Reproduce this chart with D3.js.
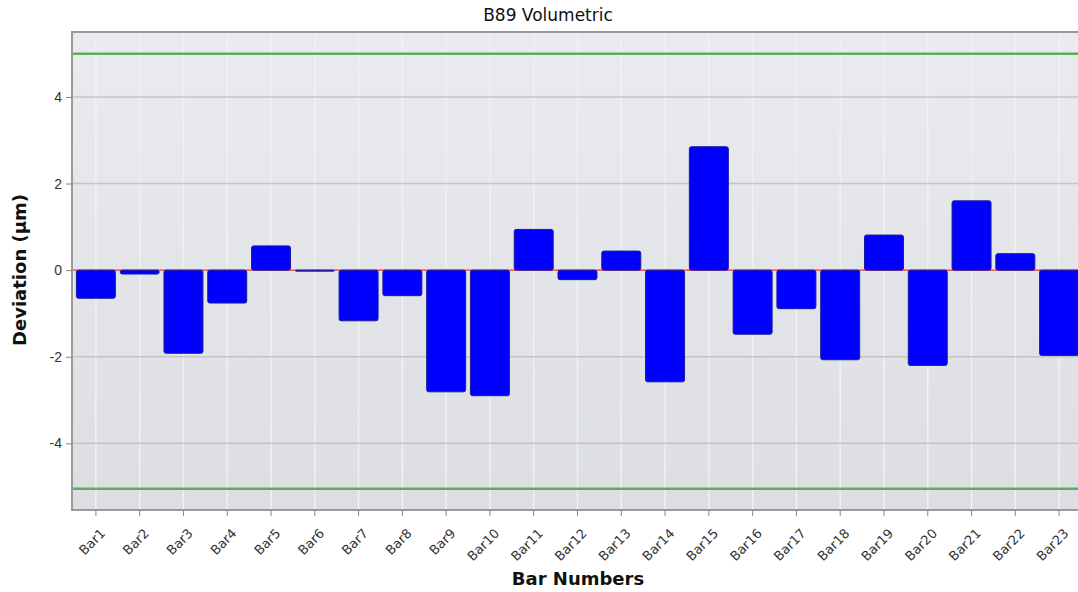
<!DOCTYPE html>
<html>
<meta charset="utf-8">
<head>
<style>
    body { margin: 0; background: white; }
    text { font-family: "DejaVu Sans", Verdana, sans-serif; }
    .title { font-size: 17px; fill: #111; text-anchor: middle; }
    .axis_label { font-size: 18px; font-weight: bold; fill: #111; text-anchor: middle; }
    .y_tick text { font-family: "Liberation Sans", Arial, sans-serif; font-size: 14px; fill: #333; }
    .x_tick text { font-size: 13px; fill: #333; }
    .domain { display: none; }
    .tick line { stroke: #888; }
</style>
</head>
<body>
<div id="viz"></div>
<script src="https://cdnjs.cloudflare.com/ajax/libs/d3/7.8.5/d3.min.js"></script>
<script>
const width = 1078;
const height = 592;

// data
const bar_names = d3.range(1, 24).map(i => "Bar" + i);
const deviations = [-0.65, -0.09, -1.92, -0.76, 0.56, -0.02, -1.17, -0.59, -2.81, -2.90,
    0.94, -0.22, 0.44, -2.58, 2.85, -1.48, -0.89, -2.07, 0.81, -2.20, 1.60, 0.38, -1.97];
const y_ticks = [-4, -2, 0, 2, 4];
const limits = [5, -5.05];
const y_domain = [-5.54, 5.5];

const plot = { left: 72, top: 32, right: 1078, bottom: 510 };

const svg = d3.select("#viz")
    .append("svg")
    .attr("width", width)
    .attr("height", height);

const x = d3.scaleBand()
    .domain(bar_names)
    .range([74, 1081])
    .paddingInner(0.11)
    .paddingOuter(0.055);

const y = d3.scaleLinear()
    .domain(y_domain)
    .range([plot.bottom, plot.top]);

// background gradient
const defs = svg.append("defs");
const grad = defs.append("linearGradient")
    .attr("id", "bg")
    .attr("x1", 0).attr("y1", 0).attr("x2", 0).attr("y2", 1);
grad.append("stop").attr("offset", "0%").attr("stop-color", "#eaebee");
grad.append("stop").attr("offset", "100%").attr("stop-color", "#dcdee1");

svg.append("rect")
    .attr("x", plot.left)
    .attr("y", plot.top)
    .attr("width", plot.right - plot.left + 5)
    .attr("height", plot.bottom - plot.top)
    .attr("fill", "url(#bg)");

// vertical grid
svg.append("g")
    .selectAll("line")
    .data(bar_names)
    .enter()
    .append("line")
    .attr("x1", d => x(d) + x.bandwidth() / 2)
    .attr("x2", d => x(d) + x.bandwidth() / 2)
    .attr("y1", plot.top)
    .attr("y2", plot.bottom)
    .attr("stroke", "#f0f1f2")
    .attr("stroke-width", 1.5);

// horizontal grid
svg.append("g")
    .selectAll("line")
    .data(y_ticks)
    .enter()
    .append("line")
    .attr("x1", plot.left)
    .attr("x2", plot.right)
    .attr("y1", d => y(d))
    .attr("y2", d => y(d))
    .attr("stroke", "#c3c4c6")
    .attr("stroke-width", 1.5);

// limit lines
svg.append("g")
    .selectAll("line")
    .data(limits)
    .enter()
    .append("line")
    .attr("x1", plot.left)
    .attr("x2", plot.right)
    .attr("y1", d => y(d))
    .attr("y2", d => y(d))
    .attr("stroke", "#5cad5c")
    .attr("stroke-width", 2.5);

// zero line
svg.append("line")
    .attr("x1", plot.left)
    .attr("x2", plot.right)
    .attr("y1", y(0))
    .attr("y2", y(0))
    .attr("stroke", "#ff2020")
    .attr("stroke-width", 1);

// bars
svg.append("g")
    .selectAll("rect")
    .data(deviations)
    .enter()
    .append("rect")
    .attr("x", (d, i) => x(bar_names[i]))
    .attr("width", x.bandwidth())
    .attr("y", d => y(Math.max(0, d)))
    .attr("height", d => Math.max(1, Math.abs(y(d) - y(0))))
    .attr("rx", 2)
    .attr("fill", "#0000ff")
    .attr("stroke", "#1a1a9a")
    .attr("stroke-width", 1);

// plot frame
svg.append("path")
    .attr("d", `M${plot.right + 2},${plot.top}H${plot.left}V${plot.bottom}H${plot.right + 2}`)
    .attr("fill", "none")
    .attr("stroke", "#9a9a9a")
    .attr("stroke-width", 2);

// axes
svg.append("g")
    .attr("class", "y_tick")
    .attr("transform", `translate(${plot.left},0)`)
    .call(d3.axisLeft(y).tickValues(y_ticks).tickSize(6).tickPadding(4).tickFormat(d => String(d)));

const x_axis = svg.append("g")
    .attr("class", "x_tick")
    .attr("transform", `translate(0,${plot.bottom})`)
    .call(d3.axisBottom(x).tickSize(6));

x_axis.selectAll("text")
    .attr("text-anchor", "end")
    .attr("x", 0)
    .attr("y", 0)
    .attr("dy", "0.35em")
    .attr("transform", "translate(7,21) rotate(-45)");

// labels
svg.append("text")
    .attr("class", "title")
    .attr("x", 548)
    .attr("y", 21)
    .text("B89 Volumetric");

svg.append("text")
    .attr("class", "axis_label")
    .attr("x", 578)
    .attr("y", 585)
    .text("Bar Numbers");

svg.append("text")
    .attr("class", "axis_label")
    .attr("transform", "translate(26,270) rotate(-90)")
    .text("Deviation (µm)");
</script>
</body>
</html>
